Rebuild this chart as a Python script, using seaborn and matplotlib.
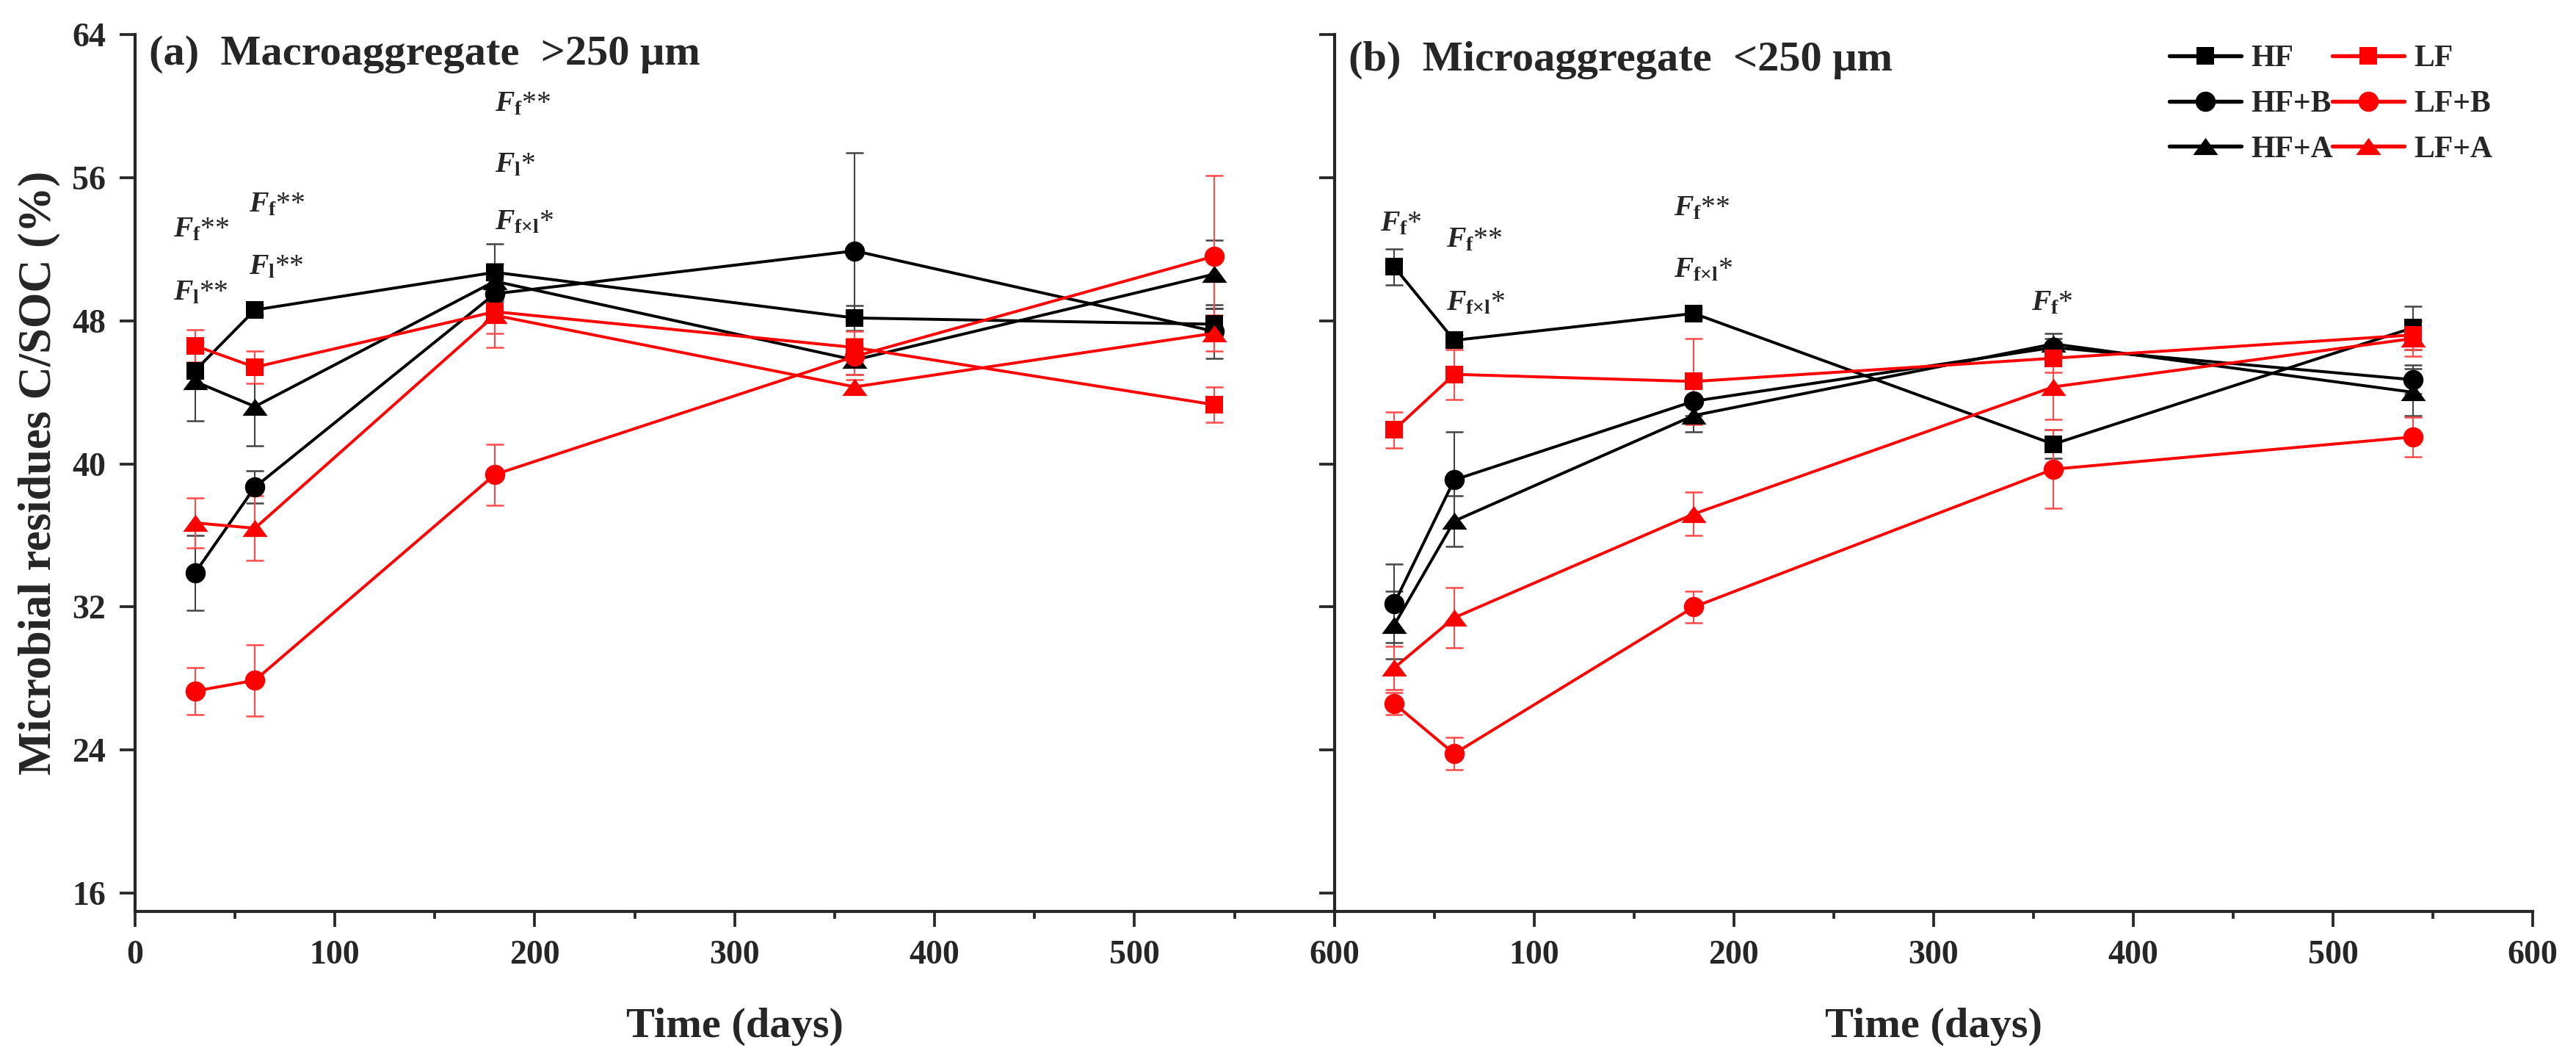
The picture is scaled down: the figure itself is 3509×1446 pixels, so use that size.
import numpy as np
import pandas as pd
import seaborn as sns
import matplotlib.pyplot as plt
from matplotlib.lines import Line2D
from matplotlib.ticker import MultipleLocator

# sampling days
days = [30, 60, 180, 360, 540]

# (a) Macroaggregate >250 um, mean and SE
macro_hf = [45.2, 48.6, 50.7, 48.15, 47.8]
macro_hfb = [33.9, 38.7, 49.5, 51.9, 47.4]
macro_hfa = [44.6, 43.2, 50.2, 45.8, 50.6]
macro_lf = [46.6, 45.4, 48.5, 46.5, 43.3]
macro_lfb = [27.3, 27.9, 39.4, 46.0, 51.6]
macro_lfa = [36.7, 36.4, 48.3, 44.3, 47.3]
macro_hf_se = [1.0, 0.3, 1.6, 0.7, 0.9]
macro_hfb_se = [2.1, 0.9, 1.0, 5.5, 1.5]
macro_hfa_se = [2.2, 2.2, 1.0, 0.8, 1.9]
macro_lf_se = [0.9, 0.9, 2.0, 0.9, 1.0]
macro_lfb_se = [1.3, 2.0, 1.7, 1.0, 4.5]
macro_lfa_se = [1.4, 1.8, 1.0, 0.4, 1.0]

# (b) Microaggregate <250 um, mean and SE
micro_hf = [51.0, 46.9, 48.4, 41.1, 47.6]
micro_hfb = [32.2, 39.1, 43.5, 46.5, 44.7]
micro_hfa = [31.0, 36.8, 42.7, 46.7, 44.0]
micro_lf = [41.9, 45.0, 44.6, 45.9, 47.2]
micro_lfb = [26.6, 23.8, 32.0, 39.7, 41.5]
micro_lfa = [28.6, 31.4, 37.2, 44.3, 47.0]
micro_hf_se = [1.0, 0.3, 0.3, 0.8, 1.2]
micro_hfb_se = [2.2, 2.7, 0.8, 0.5, 0.8]
micro_hfa_se = [1.9, 1.4, 0.9, 0.6, 1.3]
micro_lf_se = [1.0, 1.4, 2.4, 0.8, 0.8]
micro_lfb_se = [0.6, 0.9, 0.9, 2.2, 1.1]
micro_lfa_se = [1.2, 1.7, 1.2, 1.8, 1.0]

treatments = ["HF", "HF+B", "HF+A", "LF", "LF+B", "LF+A"]

# significance labels: left x (days), baseline y, text
ann_a_x = [19, 19, 57, 57, 180, 180, 180]
ann_a_y = [52.7, 49.16, 54.1, 50.6, 59.7, 56.3, 53.1]
ann_a_txt = ["Ff**", "Fl**", "Ff**", "Fl**", "Ff**", "Fl*", "Ffl*"]
ann_b_x = [23, 56, 56, 170, 170, 349]
ann_b_y = [53.0, 52.1, 48.6, 53.9, 50.45, 48.6]
ann_b_txt = ["Ff*", "Ff**", "Ffl*", "Ff**", "Ffl*", "Ff*"]

#Build long tables
def make_df(means, ses):
    rows = []
    for t, m, s in zip(treatments, means, ses):
        for d, v, e in zip(days, m, s):
            rows.append({"day": d, "value": v, "se": e, "treatment": t})
    return pd.DataFrame(rows)

df_a = make_df([macro_hf, macro_hfb, macro_hfa, macro_lf, macro_lfb, macro_lfa],
               [macro_hf_se, macro_hfb_se, macro_hfa_se, macro_lf_se, macro_lfb_se, macro_lfa_se])
df_b = make_df([micro_hf, micro_hfb, micro_hfa, micro_lf, micro_lfb, micro_lfa],
               [micro_hf_se, micro_hfb_se, micro_hfa_se, micro_lf_se, micro_lfb_se, micro_lfa_se])

sns.set_style("ticks")
plt.rcParams["font.family"] = ["Liberation Serif", "DejaVu Serif"]
plt.rcParams["font.weight"] = "bold"
plt.rcParams["axes.labelweight"] = "bold"
plt.rcParams["mathtext.fontset"] = "custom"
plt.rcParams["mathtext.it"] = "Liberation Serif:italic"
plt.rcParams["mathtext.rm"] = "Liberation Serif"

tri = [(0, 0.68), (-1, -0.68), (1, -0.68), (0, 0.68)]
colors = {"HF": "black", "HF+B": "black", "HF+A": "black", "LF": "#ff0000", "LF+B": "#ff0000", "LF+A": "#ff0000"}
markers = {"HF": "s", "HF+B": "o", "HF+A": tri, "LF": "s", "LF+B": "o", "LF+A": tri}
msizes = {"HF": 5.8, "HF+B": 6.6, "HF+A": 8.2, "LF": 5.8, "LF+B": 6.6, "LF+A": 8.2}
ecolors = {"HF": "#444444", "HF+B": "#444444", "HF+A": "#444444",
           "LF": "#ff4a4a", "LF+B": "#ff4a4a", "LF+A": "#ff4a4a"}

ann_map = {"Ff**": r"$F_{\mathrm{f}}$**", "Ff*": r"$F_{\mathrm{f}}$*",
           "Fl**": r"$F_{\mathrm{l}}$**", "Fl*": r"$F_{\mathrm{l}}$*",
           "Ffl*": r"$F_{\mathrm{f×l}}$*"}

fig = plt.figure(figsize=(3509 / 300, 1446 / 300), dpi=300)
ax_a = fig.add_axes([0.0524, 0.142, 0.4656, 0.8257])
ax_b = fig.add_axes([0.5180, 0.142, 0.4652, 0.8257])

for ax, df, title, ty, ax_x, ax_y, ax_t in [
        (ax_a, df_a, "(a)  Macroaggregate  >250 μm", 0.966, ann_a_x, ann_a_y, ann_a_txt),
        (ax_b, df_b, "(b)  Microaggregate  <250 μm", 0.959, ann_b_x, ann_b_y, ann_b_txt)]:
    for t in treatments:
        sub = df[df["treatment"] == t]
        ax.errorbar(sub["day"], sub["value"], yerr=sub["se"], fmt="none",
                    ecolor=ecolors[t], elinewidth=0.5, capsize=2.8, capthick=0.6, zorder=1.5)
        sns.lineplot(data=sub, x="day", y="value", ax=ax, color=colors[t], marker=markers[t],
                     markersize=msizes[t], markeredgewidth=0, linewidth=0.95,
                     errorbar=None, legend=False, zorder=2)
    for x, y, s in zip(ax_x, ax_y, ax_t):
        ax.text(x, y, ann_map[s], fontsize=9.5, fontweight="normal", ha="left", va="baseline")
    ax.text(0.012, ty, title, transform=ax.transAxes, fontsize=14, ha="left", va="baseline")

    ax.set_xlim(0, 600)
    ax.set_ylim(15, 64)
    ax.xaxis.set_major_locator(MultipleLocator(100))
    ax.xaxis.set_minor_locator(MultipleLocator(50))
    ax.set_yticks([16, 24, 32, 40, 48, 56, 64])
    ax.tick_params(axis="both", which="major", direction="out", length=5, width=0.9,
                   labelsize=11, pad=4.5)
    ax.tick_params(axis="x", which="minor", direction="out", length=2.3, width=0.9)
    ax.spines["top"].set_visible(False)
    ax.spines["right"].set_visible(False)
    for sp in ["left", "bottom"]:
        ax.spines[sp].set_linewidth(1.0)
    ax.set_xlabel("Time (days)", fontsize=14, labelpad=12)
    ax.set_ylabel("")

ax_b.set_xticks([0, 100, 200, 300, 400, 500, 600])
ax_b.set_xticklabels(["", "100", "200", "300", "400", "500", "600"])
ax_b.tick_params(axis="y", labelleft=False)

ax_a.set_ylabel("Microbial residues C/SOC (%)", fontsize=15)
ax_a.yaxis.set_label_coords(-0.062, 0.5)

#legend, two columns
handles = [Line2D([], [], color=colors[t], marker=markers[t], markersize=msizes[t],
                  markeredgewidth=0, linewidth=1.3) for t in treatments]
ax_b.legend(handles, treatments, ncol=2, loc="upper left", bbox_to_anchor=(0.697, 0.988),
            frameon=False, fontsize=10, handlelength=2.35, handletextpad=0.3,
            columnspacing=0.0, labelspacing=0.57, borderpad=0, borderaxespad=0)

fig.savefig("out.png", dpi=300)
